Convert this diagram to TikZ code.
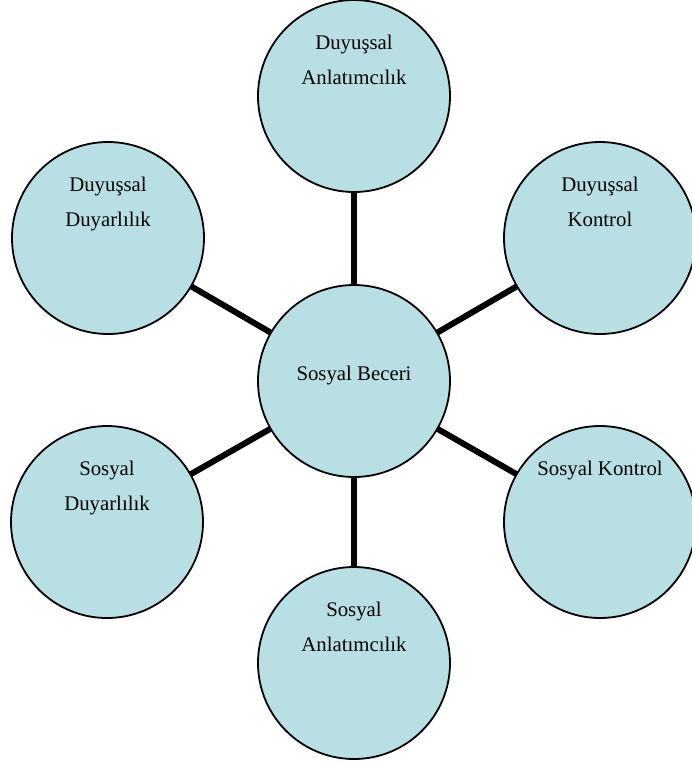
\documentclass[tikz,border=0pt]{standalone}
\usepackage{fontspec}
\setmainfont{Liberation Serif}
\definecolor{daire}{RGB}{184,223,228}
\begin{document}
\begin{tikzpicture}[x=0.5pt, y=-0.5pt,
        daireler/.style={circle, draw=black, line width=0.9pt, fill=daire, minimum size=96pt, inner sep=0pt},
        yazi/.style={font=\fontsize{10.4}{17.5}\selectfont, align=center, anchor=base, inner sep=0pt},
        bag/.style={line width=3pt}]
        \useasboundingbox (0, 0) rectangle (692, 768);
        \coordinate (m) at (354, 381);
        \coordinate (a) at (354, 96);
        \coordinate (b) at (600, 238);
        \coordinate (c) at (600, 522);
        \coordinate (d) at (354, 663);
        \coordinate (e) at (107, 522);
        \coordinate (f) at (108, 238);
        \foreach \k in {a, b, c, d, e, f}
            \draw[bag] (m) -- (\k);
        \node[daireler] (merkez) at (m) {};
        \node[daireler] (da) at (a) {};
        \node[daireler] (dk) at (b) {};
        \node[daireler] (sk) at (c) {};
        \node[daireler] (sa) at (d) {};
        \node[daireler] (sd) at (e) {};
        \node[daireler] (dd) at (f) {};
        \node[yazi, anchor=center] (tm) at ([yshift=2.5pt]merkez.center) {Sosyal Beceri};
        \node[yazi] (tda) at ([yshift=6pt]da.center) {Duyuşsal\\Anlatımcılık};
        \node[yazi] (tdk) at ([yshift=6pt]dk.center) {Duyuşsal\\Kontrol};
        \node[yazi] (tsk) at ([yshift=23.5pt]sk.center) {Sosyal Kontrol};
        \node[yazi] (tsa) at ([yshift=6pt]sa.center) {Sosyal\\Anlatımcılık};
        \node[yazi] (tsd) at ([yshift=6pt]sd.center) {Sosyal\\Duyarlılık};
        \node[yazi] (tdd) at ([yshift=6pt]dd.center) {Duyuşsal\\Duyarlılık};
    \end{tikzpicture}
\end{document}
